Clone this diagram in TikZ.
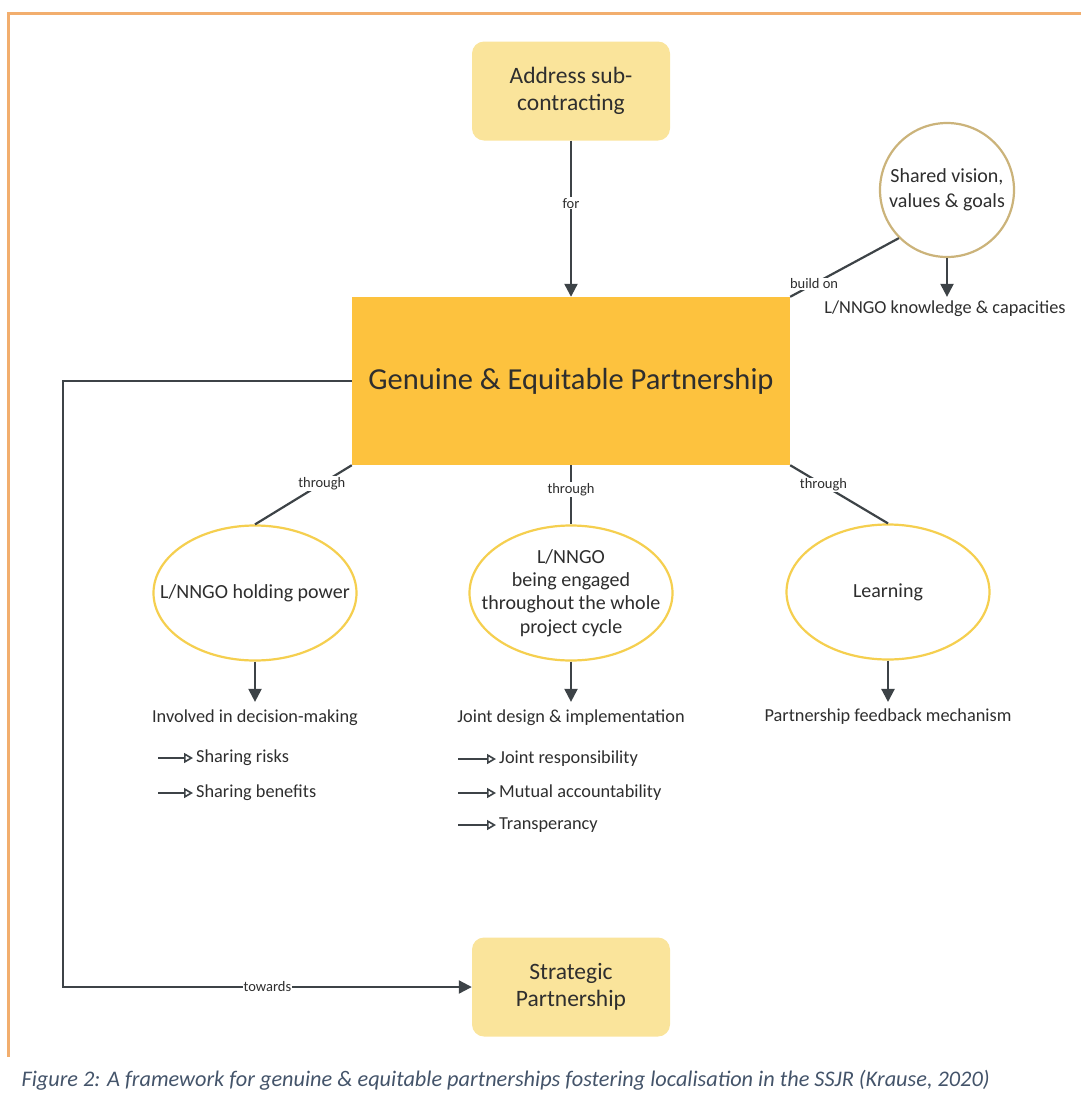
\documentclass[tikz,border=0pt]{standalone}
\usepackage{fontspec}
\setmainfont{Carlito}
\usetikzlibrary{arrows.meta,shapes.geometric}

\definecolor{boxlight}{HTML}{FAE49B}
\definecolor{boxmain}{HTML}{FDC23E}
\definecolor{ringyellow}{HTML}{F5CF4F}
\definecolor{ringtan}{HTML}{CBB37A}
\definecolor{linegray}{HTML}{3D4347}
\definecolor{textgray}{HTML}{2E2E2E}
\definecolor{framecol}{HTML}{F2AE6E}
\definecolor{captioncol}{HTML}{44546A}

\begin{document}
\begin{tikzpicture}[x=1pt,y=-1pt]

  \tikzstyle{goal} = [rounded corners=12pt, fill=boxlight, text=textgray, minimum width=198pt, minimum height=99pt, align=center, font=\fontsize{23.5}{27}\selectfont]
  \tikzstyle{pillar} = [ellipse, draw=ringyellow, line width=2.2pt, fill=white, minimum width=203pt, minimum height=135pt, inner xsep=-26pt, inner ysep=-3pt, align=center, text=textgray, font=\fontsize{20}{23.3}\selectfont]
  \tikzstyle{outcome} = [text=textgray, inner sep=3pt, font=\fontsize{18.3}{21}\selectfont]
  \tikzstyle{item} = [outcome, anchor=west]
  \tikzstyle{link} = [line width=2.2pt, draw=linegray]
  \tikzstyle{tip} = [-{Triangle[width=13pt,length=13pt]}]
  \tikzstyle{sub} = [line width=1.6pt, draw=linegray, -{Triangle[open,width=10pt,length=9pt]}]
  \tikzstyle{tag} = [fill=white, text=textgray, inner sep=1pt, font=\fontsize{14.5}{16}\selectfont]

  \useasboundingbox (0,0) rectangle (1081,1101);

  % frame
  \draw[framecol, line width=3pt] (1081,13) -- (8,13) -- (8,1057);

  \node[goal] (ASC) at (571,91) {Address sub-\\contracting};
  \node[rectangle, fill=boxmain, text=textgray, minimum width=438pt, minimum height=168pt, font=\fontsize{30.5}{36}\selectfont] (GEP) at (571,381) {Genuine \& Equitable Partnership};
  \node[circle, draw=ringtan, line width=2.2pt, fill=white, minimum size=134pt, inner sep=0pt, align=center, text=textgray, font=\fontsize{20}{25}\selectfont] (SVG) at (947,190) {Shared vision,\\values \& goals};
  \node[outcome] (KC) at (945,309) {L/NNGO knowledge \& capacities};

  \node[pillar] (HP) at (255,593) {L/NNGO holding power};
  \node[pillar] (EP) at (571,593) {L/NNGO\\being engaged\\throughout the whole\\project cycle};
  \node[pillar] (LE) at (888,592) {Learning};

  \node[outcome] (DM) at (255,718) {Involved in decision-making};
  \node[outcome] (JD) at (571,718) {Joint design \& implementation};
  \node[outcome] (FB) at (888,717) {Partnership feedback mechanism};

  \node[item] (RISK) at (193,758) {Sharing risks};
  \node[item] (BEN) at (193,793) {Sharing benefits};
  \node[item] (RESP) at (496,759) {Joint responsibility};
  \node[item] (ACC) at (496,793) {Mutual accountability};
  \node[item] (TRA) at (496,825) {Transperancy};

  \coordinate (R1) at (158,758);
  \coordinate (R2) at (158,793);
  \coordinate (R3) at (458,759);
  \coordinate (R4) at (458,793);
  \coordinate (R5) at (458,825);

  \node[goal] (SP) at (571,987) {Strategic\\Partnership};

  \draw[link, tip] (ASC) -- node[tag, pos=0.4] {for} (GEP);
  \draw[link] (SVG.225) -- node[tag, pos=0.78] {build on} (GEP.north east);
  \draw[link, tip, shorten >=1pt] (SVG.south) -- (SVG.south |- KC.north);

  \draw[link] (GEP.south west) -- node[tag, pos=0.31] {through} (HP.north);
  \draw[link] (GEP.south) -- node[tag, pos=0.41] {through} (EP.north);
  \draw[link] (GEP.south east) -- node[tag, pos=0.34] {through} (LE.north);

  \draw[link, tip, shorten >=5pt] (HP.south) -- (DM.north);
  \draw[link, tip, shorten >=5pt] (EP.south) -- (JD.north);
  \draw[link, tip, shorten >=4pt] (LE.south) -- (FB.north);

  \draw[sub] (R1) -- (RISK.west);
  \draw[sub] (R2) -- (BEN.west);
  \draw[sub] (R3) -- (RESP.west);
  \draw[sub] (R4) -- (ACC.west);
  \draw[sub] (R5) -- (TRA.west);

  \coordinate (BEND) at (63,381);
  \draw[link, tip] (GEP.west) -- (BEND) |- node[tag, pos=0.75] {towards} (SP.west);

  \node[anchor=west, text=captioncol, font=\fontsize{22.3}{26}\selectfont\itshape] (CAP) at (18,1080) {Figure 2: A framework for genuine \& equitable partnerships fostering localisation in the SSJR (Krause, 2020)};

\end{tikzpicture}
\end{document}
